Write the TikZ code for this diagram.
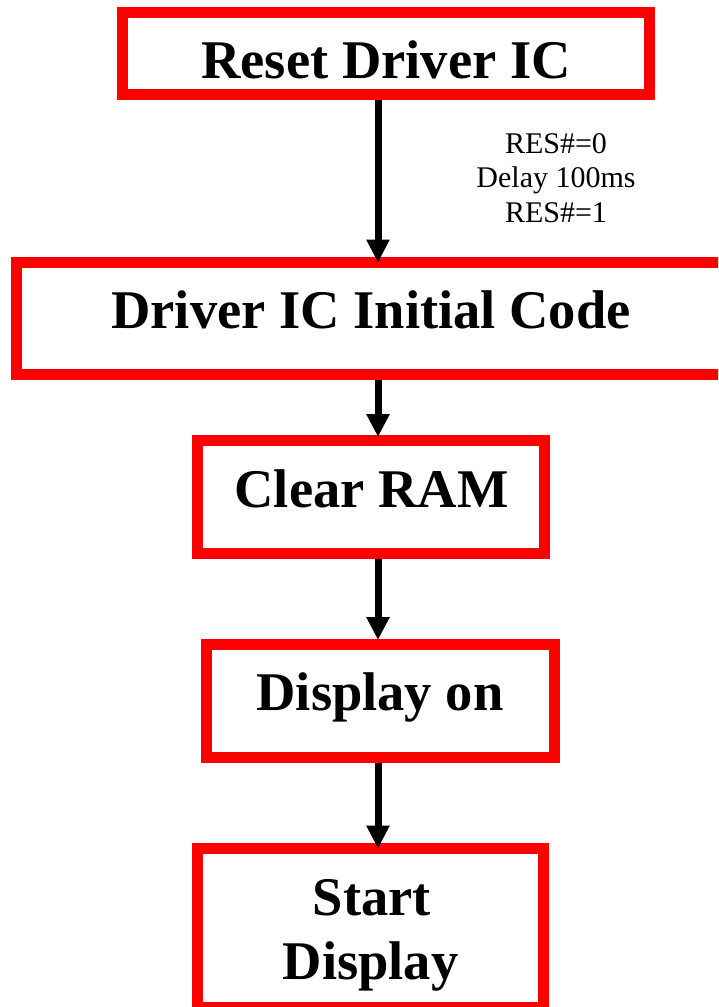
\documentclass[tikz,border=0pt]{standalone}
\usepackage{fontspec}
\setmainfont{Liberation Serif}
\usetikzlibrary{arrows.meta}
\definecolor{boxred}{RGB}{255,0,0}
\tikzset{
  stepbox/.style={draw=boxred, line width=11pt, inner sep=0pt, outer sep=0pt, fill=none},
  boxtext/.style={inner sep=0pt, anchor=base, font=\bfseries\fontsize{54.5}{64}\selectfont},
  notetext/.style={inner sep=0pt, align=center, font=\fontsize{30}{34.5}\selectfont},
  flow/.style={line width=7pt, -{Triangle[length=23pt,width=22pt]}}
}
\begin{document}
\begin{tikzpicture}[x=1pt,y=-1pt]
\useasboundingbox (0,0) rectangle (718,1007);
\clip (0,0) rectangle (718,1007);
\fill[white] (0,0) rectangle (718,1007);
% boxes
\node[stepbox, minimum width=527.5pt, minimum height=82pt] (b1) at (385.75,53.5) {};
\node[stepbox, minimum width=709.5pt, minimum height=112pt] (b2) at (371.25,318.5) {};
\node[stepbox, minimum width=347pt, minimum height=113pt] (b3) at (371,497) {};
\node[stepbox, minimum width=348pt, minimum height=113pt] (b4) at (380.5,701) {};
\node[stepbox, minimum width=346pt, minimum height=159pt] (b5) at (370.5,928) {};
% texts
\node[boxtext] (t1) at (386,78) {Reset Driver IC};
\node[boxtext] (t2) at (371,328) {Driver IC Initial Code};
\node[boxtext] (t3) at (371.5,507) {Clear RAM};
\node[boxtext] (t4) at (380,710) {Display on};
\node[boxtext] (t5a) at (372,915) {Start};
\node[boxtext] (t5b) at (370.5,979) {Display};
\node[notetext, anchor=base] (n1) at (556,222) {RES\#=0\\Delay 100ms\\RES\#=1};
% connectors
\coordinate (ax) at (378,0);
\draw[flow, shorten <=5.5pt] (b1.south -| ax) -- (b2.north -| ax);
\draw[flow, shorten <=5.5pt, shorten >=3.5pt] (b2.south -| ax) -- (b3.north -| ax);
\draw[flow, shorten <=5.5pt, shorten >=4.5pt] (b3.south -| ax) -- (b4.north -| ax);
\draw[flow, shorten <=5.5pt] (b4.south -| ax) -- (b5.north -| ax);
\end{tikzpicture}
\end{document}
